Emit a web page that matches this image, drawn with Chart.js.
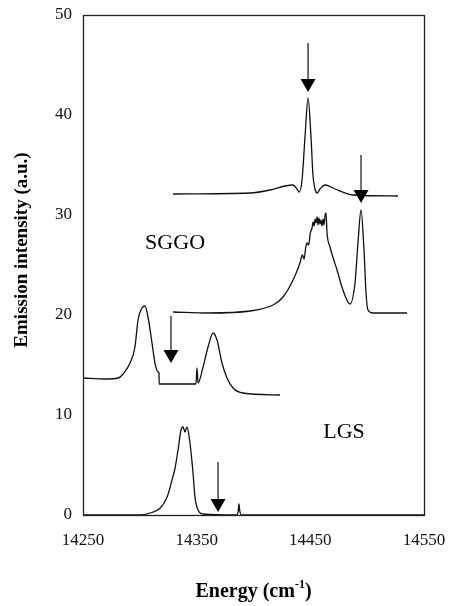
<!DOCTYPE html>
<html lang="en">
<head>
  <meta charset="UTF-8" />
  <title>Emission spectra</title>
  <script src="https://cdn.jsdelivr.net/npm/chart.js"></script>
  <style>
    html, body { margin: 0; padding: 0; background: #fff; }
    #chart { display: block; }
  </style>
</head>
<body>
  <canvas id="chart" width="449" height="606"></canvas>

  <script>
    // LGS trace (bottom)
    const lgsX = [14250, 14300, 14309, 14318, 14324, 14328.3, 14331, 14333.6, 14336.2, 14338, 14339.7, 14341.5, 14344.1, 14346.8, 14348.5, 14351.2, 14355.6, 14385, 14386.6, 14387.2, 14387.9, 14389.5, 14550];
    const lgsY = [0, 0, 0.2, 0.7, 1.8, 3.5, 4.7, 6.5, 8.5, 8.8, 8.3, 8.8, 7.2, 4.2, 1.8, 0.5, 0.1, 0, 0.4, 1.1, 0.4, 0, 0];

    // SGGO, lower trace
    const sggoLowX = [14250, 14270, 14281, 14286, 14291.4, 14295.7, 14298.4, 14301.9, 14304.5, 14307.2, 14310.7, 14313.3, 14316.0, 14316.9, 14317.0, 14349.4, 14350.3, 14351.2, 14355.6, 14360, 14364.4, 14367.9, 14372.3, 14376.7, 14382, 14390.8, 14423.3];
    const sggoLowY = [13.7, 13.6, 13.7, 14.2, 15.2, 16.8, 19.5, 20.7, 20.9, 19.8, 17.2, 15.2, 14.3, 14.2, 13.1, 13.1, 14.7, 13.2, 14.8, 16.8, 18.2, 17.5, 15.2, 13.7, 12.7, 12.2, 12.0];

    // SGGO, middle trace
    const sggoMidX = [14329.2, 14360, 14396.9, 14417.2, 14426, 14434.8, 14440.9, 14443, 14444.5, 14446, 14447.1, 14448.5, 14450, 14451.5, 14452.4, 14453.3, 14454.2, 14455, 14455.9, 14456.8, 14457.6, 14458.5, 14459.4, 14460.3, 14461.2, 14462, 14462.9, 14463.8, 14464.7, 14467.3, 14473.5, 14478.7, 14484.9, 14489.3, 14491.9, 14494.6, 14497.2, 14499, 14500.7, 14505.1, 14535.1];
    const sggoMidY = [20.3, 20.2, 20.4, 21.0, 21.8, 23.5, 25.2, 26.0, 25.6, 26.8, 27.2, 27.0, 28.2, 28.7, 29.3, 28.9, 29.6, 29.2, 29.8, 29.0, 29.7, 29.1, 29.5, 28.9, 29.6, 29.0, 29.9, 30.2, 28.2, 26.8, 24.5, 22.5, 21.1, 23.2, 27.2, 30.5, 26.5, 22.2, 20.5, 20.2, 20.2];

    // top trace
    const topX = [14329.2, 14396.9, 14414.5, 14427.7, 14434.8, 14438.3, 14440.1, 14442.7, 14445.3, 14448.0, 14450.6, 14452.3, 14454.1, 14455.9, 14458.5, 14462.9, 14471.7, 14487.5, 14527.1];
    const topY = [32.1, 32.2, 32.5, 32.9, 33.0, 32.6, 32.3, 33.5, 37.8, 41.7, 37.8, 34.0, 32.6, 32.2, 32.6, 33.0, 32.6, 32.0, 31.9];

    // arrows: x position, shaft top, tip
    const arrowX = [14448.0, 14494.6, 14327.4, 14368.8];
    const arrowTop = [47.2, 36.0, 19.9, 5.3];
    const arrowTip = [42.3, 31.2, 15.2, 0.3];

    // text labels
    const labelText = ['SGGO', 'LGS'];
    const labelX = [14331, 14479.6];
    const labelY = [27.2, 8.3];

    const xTicks = [14250, 14350, 14450, 14550];
    const yTicks = [0, 10, 20, 30, 40, 50];

    const serif = '"Liberation Serif", "DejaVu Serif", serif';

    function pts(xs, ys) {
      return xs.map((x, i) => ({ x: x, y: ys[i] }));
    }

    function trace(xs, ys) {
      return {
        data: pts(xs, ys),
        showLine: true,
        borderColor: '#111',
        borderWidth: 1.3,
        pointRadius: 0,
        cubicInterpolationMode: 'monotone'
      };
    }

    const extras = {
      id: 'extras',
      afterDraw(chart) {
        const ctx = chart.ctx;
        const a = chart.chartArea;
        const xs = chart.scales.x, ys = chart.scales.y;
        ctx.save();

        // frame
        ctx.strokeStyle = '#222';
        ctx.lineWidth = 1.3;
        ctx.strokeRect(a.left + 0.5, a.top + 0.5, a.right - a.left, a.bottom - a.top);

        // arrows
        ctx.fillStyle = '#000';
        ctx.strokeStyle = '#111';
        ctx.lineWidth = 1.2;
        arrowX.forEach((v, i) => {
          const px = xs.getPixelForValue(v);
          const top = ys.getPixelForValue(arrowTop[i]);
          const tip = ys.getPixelForValue(arrowTip[i]);
          ctx.beginPath();
          ctx.moveTo(px, top);
          ctx.lineTo(px, tip - 12);
          ctx.stroke();
          ctx.beginPath();
          ctx.moveTo(px - 7.5, tip - 13);
          ctx.lineTo(px + 7.5, tip - 13);
          ctx.lineTo(px, tip);
          ctx.closePath();
          ctx.fill();
        });

        // sample labels
        ctx.font = '22px ' + serif;
        ctx.textAlign = 'center';
        ctx.textBaseline = 'middle';
        labelText.forEach((t, i) => {
          ctx.fillText(t, xs.getPixelForValue(labelX[i]), ys.getPixelForValue(labelY[i]));
        });

        // y axis title
        ctx.save();
        ctx.translate(22, 250);
        ctx.rotate(-Math.PI / 2);
        ctx.font = 'bold 19px ' + serif;
        ctx.fillText('Emission intensity (a.u.)', 0, 0);
        ctx.restore();

        // x axis title with superscript
        const big = 'bold 20px ' + serif, small = 'bold 12px ' + serif;
        ctx.textAlign = 'left';
        ctx.textBaseline = 'alphabetic';
        ctx.font = big;
        const w1 = ctx.measureText('Energy (cm').width;
        const w3 = ctx.measureText(')').width;
        ctx.font = small;
        const w2 = ctx.measureText('-1').width;
        let x0 = (a.left + a.right) / 2 - (w1 + w2 + w3) / 2;
        const base = 597;
        ctx.font = big;
        ctx.fillText('Energy (cm', x0, base);
        ctx.font = small;
        ctx.fillText('-1', x0 + w1, base - 9);
        ctx.font = big;
        ctx.fillText(')', x0 + w1 + w2, base);

        ctx.restore();
      }
    };

    new Chart(document.getElementById('chart'), {
      type: 'scatter',
      data: {
        datasets: [
          trace(lgsX, lgsY),
          trace(sggoLowX, sggoLowY),
          trace(sggoMidX, sggoMidY),
          trace(topX, topY)
        ]
      },
      options: {
        responsive: false,
        animation: false,
        layout: { autoPadding: false, padding: { top: 15, right: 25, left: 0, bottom: 0 } },
        plugins: {
          legend: { display: false },
          tooltip: { enabled: false }
        },
        scales: {
          x: {
            type: 'linear',
            min: 14250,
            max: 14550,
            afterBuildTicks: s => { s.ticks = xTicks.map(v => ({ value: v })); },
            afterFit: s => { s.height = 91; },
            grid: { display: true, drawOnChartArea: false, drawTicks: true, tickLength: 15, color: 'rgba(0,0,0,0)' },
            border: { display: false },
            ticks: {
              color: '#111',
              padding: 0,
              maxRotation: 0,
              autoSkip: false,
              callback: v => String(v),
              font: { family: serif, size: 17 }
            }
          },
          y: {
            min: 0,
            max: 50,
            afterBuildTicks: s => { s.ticks = yTicks.map(v => ({ value: v })); },
            afterFit: s => { s.width = 83; },
            grid: { display: true, drawOnChartArea: false, drawTicks: true, tickLength: 11, color: 'rgba(0,0,0,0)' },
            border: { display: false },
            ticks: {
              color: '#111',
              padding: 0,
              callback: v => String(v),
              font: { family: serif, size: 17 }
            }
          }
        }
      },
      plugins: [extras]
    });
  </script>
</body>
</html>
